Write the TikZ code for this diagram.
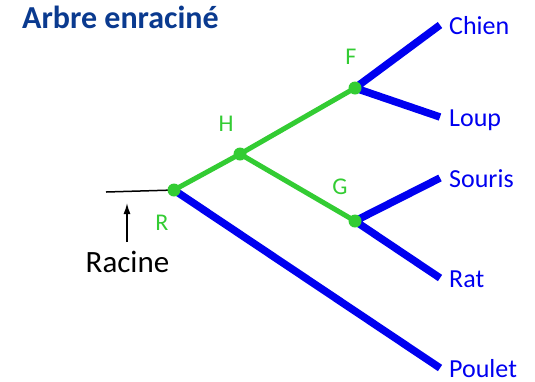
\documentclass[tikz,border=0pt]{standalone}
\usepackage{fontspec}
\setmainfont{Carlito}
\usepackage{tikz}
\usetikzlibrary{arrows.meta,positioning,calc,backgrounds}
\definecolor{titleblue}{HTML}{0A3A8F}
\definecolor{leafblue}{HTML}{0000F0}
\definecolor{innergreen}{HTML}{33CC33}
\tikzset{twig/.style={draw=leafblue,line width=7.5bp},branch/.style={draw=innergreen,line width=5bp},leaf/.style={anchor=base west,text=leafblue,inner sep=0pt,font=\fontsize{26bp}{30bp}\selectfont}}
\begin{document}
\begin{tikzpicture}[x=1bp,y=-1bp,
knot/.style={circle,fill=innergreen,inner sep=0pt,minimum size=13bp},
tag/.style={text=innergreen,inner sep=0pt,font=\fontsize{24bp}{28bp}\selectfont},
arr/.style={-{Latex[length=11bp,width=7bp]},line width=1.5bp}]
\useasboundingbox (0,0) rectangle (535,381);
\node[anchor=base west,inner sep=0pt,text=titleblue,font=\bfseries\fontsize{32bp}{36bp}\selectfont] (titre) at (22,28) {Arbre enraciné};
\node[knot] (R) at (174,190) {};
\node[knot] (H) at (240,154) {};
\node[knot] (F) at (355,88) {};
\node[knot] (G) at (355,221) {};
\foreach \n/\x/\y/\t in {R/162/223/R,H/226/124/H,F/351/57/F,G/340/187/G}{
  \node[tag] (\n-tag) at (\x,\y) {\t};
}
\foreach \n/\y/\t in {chien/25/Chien,loup/117/Loup,souris/178/Souris,rat/278/Rat,poulet/368/Poulet}{
  \coordinate (\n) at (440,\y);
  \node[leaf] (\n-txt) at (449,\y+9) {\t};
}
\coordinate (souche) at (106,192);
\coordinate (queue) at (127,242);
\coordinate (pointe) at (127,203);
\node[anchor=base,inner sep=0pt,font=\fontsize{31bp}{35bp}\selectfont] (racine) at (127.5,272) {Racine};
\begin{scope}[on background layer]
\draw[line width=1.5bp] (souche)--(R.center);
\draw[twig] (R.center)--(poulet);
\draw[twig] (F.center)--(chien) (F.center)--(loup);
\draw[twig] (G.center)--(souris) (G.center)--(rat);
\draw[branch] (R.center)--(H.center)--(F.center) (H.center)--(G.center);
\end{scope}
\draw[arr] (queue)--(pointe);
\end{tikzpicture}
\end{document}
